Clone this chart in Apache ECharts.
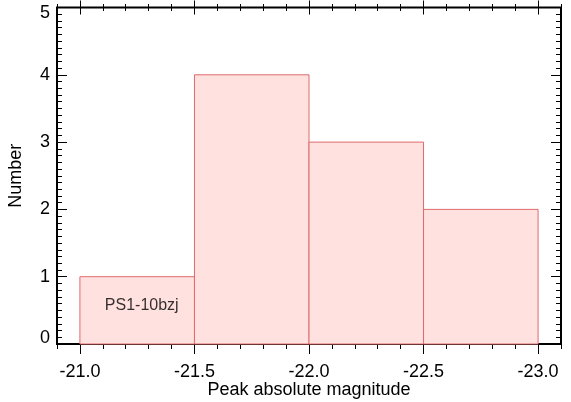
<!DOCTYPE html>
<html><head><meta charset="utf-8">
<script src="https://cdn.jsdelivr.net/npm/echarts@6/dist/echarts.min.js"></script>
<style>html,body{margin:0;padding:0;background:#fff}#c{width:571px;height:402px}</style>
</head><body><div id="c"></div>
<script>
const binStarts = [-21.0, -21.5, -22.0, -22.5];
const binEnds = [-21.5, -22.0, -22.5, -23.0];
const counts = [1, 4, 3, 2];
const xTickValues = [-21.0, -21.5, -22.0, -22.5, -23.0];
const yTickValues = [0, 1, 2, 3, 4, 5];
const annotationText = ['PS1-10bzj'];
const annotationPos = [[-21.27, 0.57]];

const FONT = 'Liberation Sans, Arial, sans-serif';
const XMIN = -23.1, XMAX = -20.9;
const chart = echarts.init(document.getElementById('c'), null, {renderer: 'canvas'});

const histData = binStarts.map((s, i) => [s, binEnds[i], counts[i]]);
const tickStyle = {color: '#000', width: 1};

const baseX = {
  type: 'value', min: XMIN, max: XMAX, inverse: true,
  axisLine: {show: false}, splitLine: {show: false}
};

const option = {
  animation: false,
  backgroundColor: '#fff',
  textStyle: {fontFamily: FONT},
  grid: {left: 57, right: 10, top: 7.5, bottom: 58, containLabel: false, outerBoundsMode: 'none',
         show: true, borderColor: '#000', borderWidth: 2, backgroundColor: 'transparent'},
  xAxis: [
    Object.assign({}, baseX, {
      position: 'bottom', interval: 0.1,
      axisTick: {show: true, inside: false, length: 5, lineStyle: tickStyle},
      axisLabel: {show: false},
      name: 'Peak absolute magnitude', nameLocation: 'middle', nameGap: 37,
      nameTextStyle: {fontSize: 18, color: '#000', fontFamily: FONT}
    }),
    Object.assign({}, baseX, {
      position: 'bottom',
      axisTick: {show: true, inside: false, length: 10, customValues: xTickValues, lineStyle: tickStyle},
      axisLabel: {show: true, customValues: xTickValues, formatter: v => Number(v).toFixed(1), fontSize: 18, color: '#000', margin: 19, fontFamily: FONT}
    }),
    Object.assign({}, baseX, {
      position: 'top', offset: 3.5, interval: 0.1,
      axisTick: {show: true, inside: true, length: 7, lineStyle: tickStyle},
      axisLabel: {show: false}
    }),
    Object.assign({}, baseX, {
      position: 'top', offset: 7,
      axisTick: {show: true, inside: true, length: 14, customValues: xTickValues, lineStyle: tickStyle},
      axisLabel: {show: false}
    })
  ],
  yAxis: [
    {
      type: 'value', position: 'left', min: 0, max: 5, interval: 1,
      axisLine: {show: false}, splitLine: {show: false},
      axisTick: {show: true, inside: true, length: 10, lineStyle: tickStyle},
      minorTick: {show: true, splitNumber: 10, length: 5, lineStyle: tickStyle},
      axisLabel: {
        show: true, fontSize: 18, color: '#000', margin: 7, fontFamily: FONT,
        formatter: v => v === yTickValues[yTickValues.length - 1] ? '{t|' + v + '}' : (v === yTickValues[0] ? '{b|' + v + '}' : String(v)),
        rich: {
          t: {fontSize: 18, color: '#000', fontFamily: FONT, padding: [12, 0, 0, 0]},
          b: {fontSize: 18, color: '#000', fontFamily: FONT, padding: [0, 0, 12, 0]}
        }
      },
      name: 'Number', nameLocation: 'middle', nameGap: 32,
      nameTextStyle: {fontSize: 18, color: '#000', fontFamily: FONT}
    },
    {
      type: 'value', position: 'right', min: 0, max: 5, interval: 1,
      axisLine: {show: false}, splitLine: {show: false},
      axisTick: {show: true, inside: true, length: 10, lineStyle: tickStyle},
      minorTick: {show: true, splitNumber: 10, length: 5, lineStyle: tickStyle},
      axisLabel: {show: false}
    }
  ],
  series: [
    {
      type: 'custom', xAxisIndex: 0, yAxisIndex: 0,
      data: histData,
      encode: {x: [0, 1], y: 2},
      renderItem: function (params, api) {
        const p0 = api.coord([api.value(0), 0]);
        const p1 = api.coord([api.value(1), api.value(2)]);
        return {
          type: 'rect',
          shape: {x: Math.min(p0[0], p1[0]), y: p1[1], width: Math.abs(p1[0] - p0[0]), height: p0[1] - p1[1]},
          style: {fill: '#ffe1df', stroke: '#de6a6c', lineWidth: 1}
        };
      },
      z: 2
    },
    {
      type: 'scatter', xAxisIndex: 0, yAxisIndex: 0,
      symbolSize: 0,
      data: annotationPos,
      label: {show: true, position: 'inside', formatter: p => annotationText[p.dataIndex], fontSize: 16, color: '#000', fontFamily: FONT},
      z: 5
    }
  ]
};
chart.setOption(option);
</script>
</body></html>
